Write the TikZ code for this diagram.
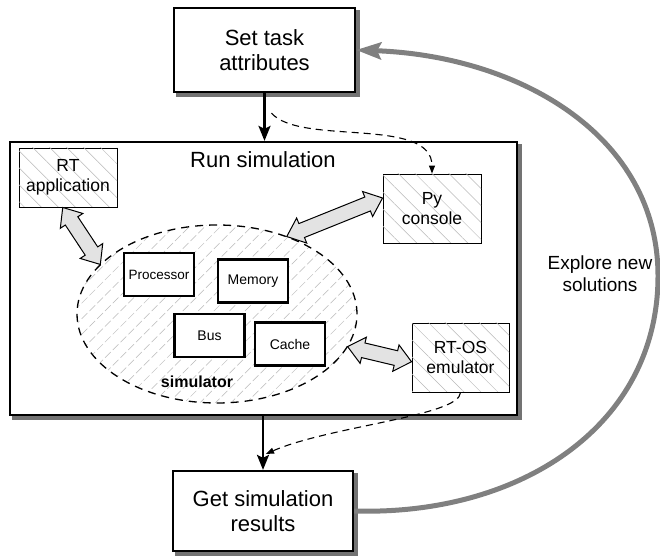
\documentclass[tikz,border=0pt]{standalone}
\usepackage{fontspec}
\setmainfont{Liberation Sans}
\usetikzlibrary{arrows.meta,shapes.geometric,shapes.arrows,patterns.meta,calc}
\tikzset{
  mainbox/.style={draw=black, line width=2.2pt, fill=white, align=center, inner sep=0pt,
    preaction={fill=black!55, draw=black!55, line width=2.2pt, transform canvas={xshift=3.5pt, yshift=-3.5pt}},
    font=\fontsize{22}{25}\selectfont},
  hatchbox/.style={draw=black, line width=0.9pt, fill=white, align=center, inner sep=0pt,
    postaction={pattern={Lines[angle=-45,distance=12pt,line width=0.5pt]}, pattern color=gray!55},
    font=\fontsize{17.5}{20.5}\selectfont},
  compbox/.style={draw=black, line width=2.2pt, fill=white, align=center, inner sep=0pt,
    minimum width=70pt, minimum height=43pt, font=\fontsize{14}{16}\selectfont},
  simell/.style={ellipse, draw=black, line width=1.3pt, dash pattern=on 8pt off 6pt,
    minimum width=280pt, minimum height=178pt, inner sep=0pt,
    pattern={Lines[angle=45,distance=11pt,line width=0.5pt]}, pattern color=gray!55},
  flowarrow/.style={line width=2.5pt, -{Stealth[length=15pt,width=12pt,inset=3pt]}},
  dasharrow/.style={line width=1.1pt, dash pattern=on 7pt off 5pt, -{Triangle[length=8pt,width=6pt]}},
  fatarr/.style={double arrow, draw=black, line width=1pt, fill=gray!22,
    inner xsep=0pt, inner ysep=7pt,
    double arrow head extend=6pt, double arrow tip angle=80, anchor=center},
  looparrow/.style={draw=gray, line width=5pt, -{Stealth[length=25pt,width=17pt,inset=4pt]}}
}
\newcommand\fatlink[2]{%
  \path let \p1=(#1), \p2=(#2), \n1={atan2(\y2-\y1,\x2-\x1)}, \n2={veclen(\x2-\x1,\y2-\y1)} in
    node[fatarr, minimum height=\n2, rotate=\n1] at ($(#1)!0.5!(#2)$) {};}
\begin{document}
\begin{tikzpicture}[x=1pt,y=1pt]
\useasboundingbox (0,0) rectangle (660,556);
% main flow boxes
\node[mainbox, minimum width=181pt, minimum height=84pt] (set) at (264.5,506) {Set task\\attributes};
\node[mainbox, minimum width=507pt, minimum height=273pt] (run) at (263.5,277.5) {};
\node[mainbox, minimum width=180pt, minimum height=80pt] (get) at (263,45) {Get simulation\\results};
\node[font=\fontsize{22}{25}\selectfont] (runlbl) at (263,396) {Run simulation};
% simulator
\node[simell] (sim) at (217,242) {};
\node[font=\bfseries\fontsize{16}{18}\selectfont] (simlbl) at (197,174) {simulator};
\node[compbox, font=\fontsize{13.5}{16}\selectfont] (proc) at (159,281.5) {Processor};
\node[compbox] (mem) at (253,275) {Memory};
\node[compbox] (bus) at (209.5,220.5) {Bus};
\node[compbox] (cache) at (290,212) {Cache};
% hatched boxes
\node[hatchbox, minimum width=98pt, minimum height=59pt] (rt) at (68,378.5) {RT\\application};
\node[hatchbox, minimum width=98pt, minimum height=69pt] (py) at (432,347.5) {Py\\console};
\node[hatchbox, minimum width=97pt, minimum height=69pt] (rtos) at (460.5,198.5) {RT-OS\\emulator};
% fat double arrows
\fatlink{rt.-100}{sim.157}
\fatlink{py.168}{sim.48}
\fatlink{sim.-14}{rtos.185}
% flow arrows
\draw[flowarrow] (set.south) -- (set.south |- run.north);
\draw[flowarrow] (get.north |- run.south) -- (get.north);
% dashed arrows
\coordinate (d1) at ($(set.south)+(7,-20)$);
\coordinate (d2) at ($(get.north)+(3,16)$);
\draw[dasharrow] (d1) .. controls (300,410) and (432,440) .. (py.north);
\draw[dasharrow] (rtos.south) .. controls (460,140) and (330,130) .. (d2);
% loop back
\draw[looparrow] (get.east) .. controls (520,40) and (658,130) .. (658,280)
  .. controls (658,420) and (520,500) .. (set.east);
\node[font=\fontsize{19}{22}\selectfont, align=center] (explore) at (600,282) {Explore new\\solutions};
\end{tikzpicture}
\end{document}
